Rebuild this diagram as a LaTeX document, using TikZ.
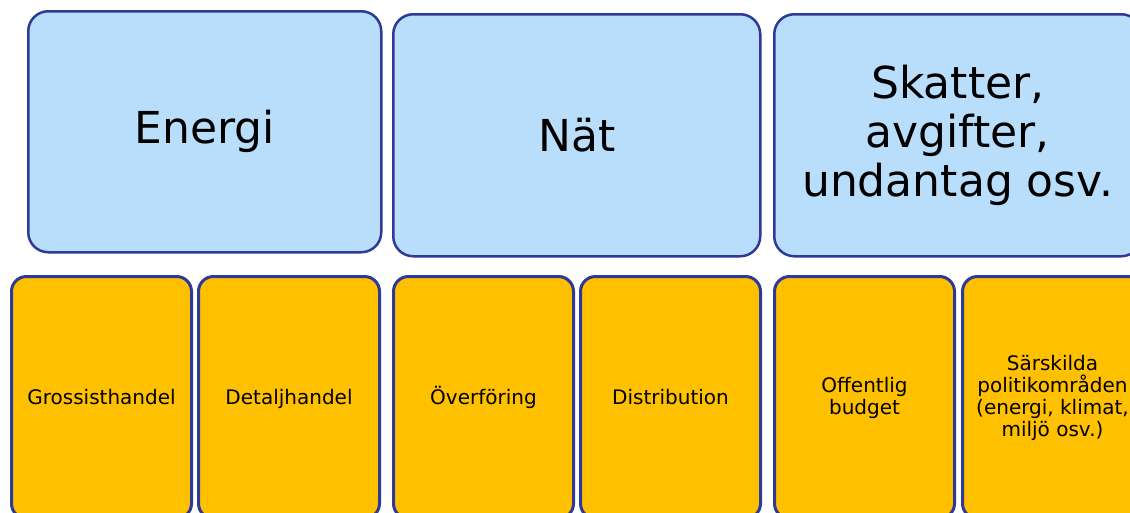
\documentclass[tikz,border=0pt]{standalone}
\usepackage{fontspec}
\setmainfont{DejaVu Sans}
\definecolor{topfill}{HTML}{B8DEFB}
\definecolor{botfill}{HTML}{FFC000}
\definecolor{edge}{HTML}{2E3A96}
\tikzset{
  topbox/.style={draw=edge, fill=topfill, line width=2.5pt, rounded corners=20pt,
    anchor=north west, inner sep=0pt, align=center,
    font=\fontsize{44}{49}\selectfont},
  botbox/.style={draw=edge, fill=botfill, line width=3pt, rounded corners=15pt,
    anchor=north west, inner sep=0pt, align=center,
    minimum height=242pt, font=\fontsize{20}{22}\selectfont},
  oneline/.style={text height=19pt, text depth=6pt}
}
\begin{document}
\begin{tikzpicture}[x=1pt,y=-1pt]
\useasboundingbox (0,0) rectangle (1130,512);
\clip (0,0) rectangle (1130,512);
\fill[white] (0,0) rectangle (1130,512);
\node[topbox, minimum width=353pt, minimum height=241pt] (energi) at (27,10) {Energi};
\node[topbox, minimum width=367pt, minimum height=242pt] (nat) at (392,13) {Nät};
\node[topbox, minimum width=367pt, minimum height=242pt] (skatt) at (773,13) {Skatter,\\avgifter,\\undantag osv.};
\node[botbox, oneline, minimum width=180pt] (gross) at (10,275) {Grossisthandel};
\node[botbox, oneline, minimum width=181pt] (detalj) at (197,275) {Detaljhandel};
\node[botbox, oneline, minimum width=180pt] (over) at (392,275) {Överföring};
\node[botbox, oneline, minimum width=180pt] (dist) at (579,275) {Distribution};
\node[botbox, minimum width=180pt] (off) at (773,275) {Offentlig\\budget};
\node[botbox, minimum width=180pt] (sars) at (961,275) {Särskilda\\politikområden\\(energi, klimat,\\miljö osv.)};
\end{tikzpicture}
\end{document}
